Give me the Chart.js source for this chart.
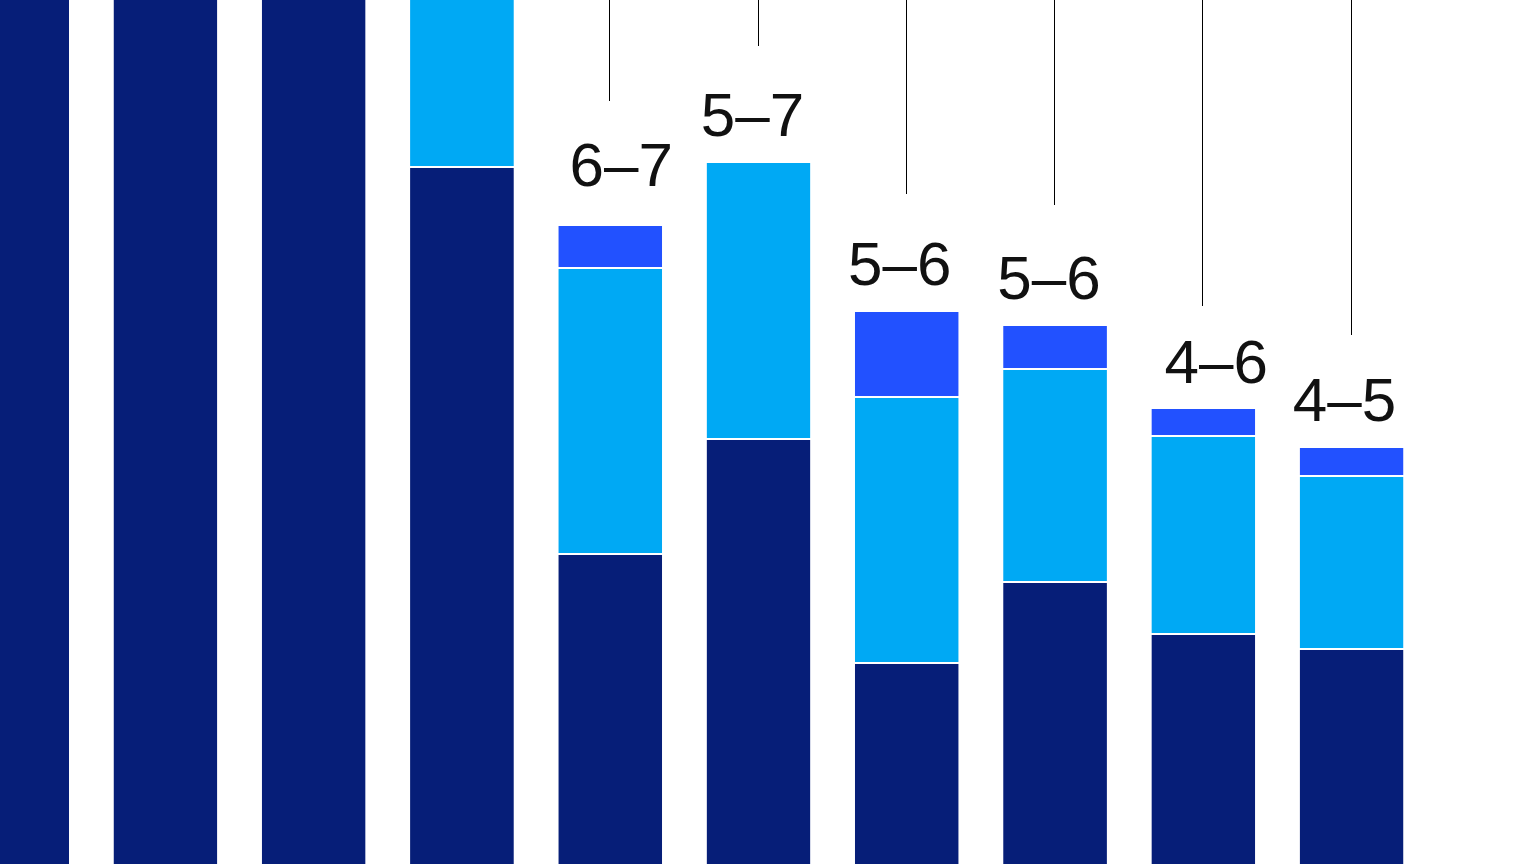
<!DOCTYPE html>
<html>
<head>
<meta charset="utf-8">
<script src="https://cdn.jsdelivr.net/npm/chart.js@4"></script>
<style>
  html, body { margin: 0; padding: 0; background: #fff; overflow: hidden; }
  #wrap { position: absolute; left: -57px; top: 0; width: 1631px; height: 864px; }
</style>
</head>
<body>
<div id="wrap"><canvas id="myChart"></canvas></div>
<script>
// categories (last one is an empty slot to leave room on the right)
const categories = ['a', 'b', 'c', 'd', 'e', 'f', 'g', 'h', 'i', 'j', ''];
// segment heights, bottom to top
const darkValues  = [1000, 1000, 1000, 698, 311, 426, 202, 283, 231, 216, null];
const lightValues = [0, 0, 0, 300, 286, 277, 266, 213, 198, 173, null];
const blueValues  = [0, 0, 0, 0, 43, 0, 86, 44, 28, 29, null];
// range labels and the leader lines above them
const rangeLabels = ['', '', '', '', '6–7', '5–7', '5–6', '5–6', '4–6', '4–5', ''];
const labelValues = [null, null, null, null, 678, 728, 579, 565, 481, 443, null];
const lineEnds    = [null, null, null, null, 763, 818, 670, 659, 558, 529, null];
const labelShift  = [0, 0, 0, 0, 11, -6, -7, -6, 13, -7, 0];

const rangePlugin = {
  id: 'ranges',
  afterDatasetsDraw(chart) {
    const ctx = chart.ctx;
    const x = chart.scales.x, y = chart.scales.y;
    ctx.save();
    ctx.strokeStyle = '#000';
    ctx.lineWidth = 1;
    ctx.fillStyle = '#111';
    ctx.font = '62px "Liberation Sans", Inter, sans-serif';
    ctx.textAlign = 'center';
    ctx.textBaseline = 'alphabetic';
    categories.forEach((c, i) => {
      if (lineEnds[i] == null) return;
      const cx = x.getPixelForValue(i);
      ctx.beginPath();
      ctx.moveTo(Math.round(cx) + 0.5 - 1, 0);
      ctx.lineTo(Math.round(cx) + 0.5 - 1, y.getPixelForValue(lineEnds[i]));
      ctx.stroke();
      ctx.fillText(rangeLabels[i], cx + labelShift[i], y.getPixelForValue(labelValues[i]));
    });
    ctx.restore();
  }
};

const seg = (data, color) => ({
  data: data,
  backgroundColor: color,
  borderColor: '#ffffff',
  borderWidth: { top: 2, bottom: 0, left: 0, right: 0 },
  borderSkipped: false,
  categoryPercentage: 1,
  barPercentage: 0.70
});

new Chart(document.getElementById('myChart').getContext('2d'), {
  type: 'bar',
  data: {
    labels: categories,
    datasets: [
      seg(darkValues, '#061e78'),
      seg(lightValues, '#00a9f4'),
      seg(blueValues, '#2251ff')
    ]
  },
  options: {
    responsive: true,
    maintainAspectRatio: false,
    animation: false,
    layout: { padding: 0 },
    plugins: { legend: { display: false }, tooltip: { enabled: false } },
    scales: {
      x: { stacked: true, display: false },
      y: { stacked: true, display: false, min: 0, max: 864 }
    }
  },
  plugins: [rangePlugin]
});
</script>
</body>
</html>
